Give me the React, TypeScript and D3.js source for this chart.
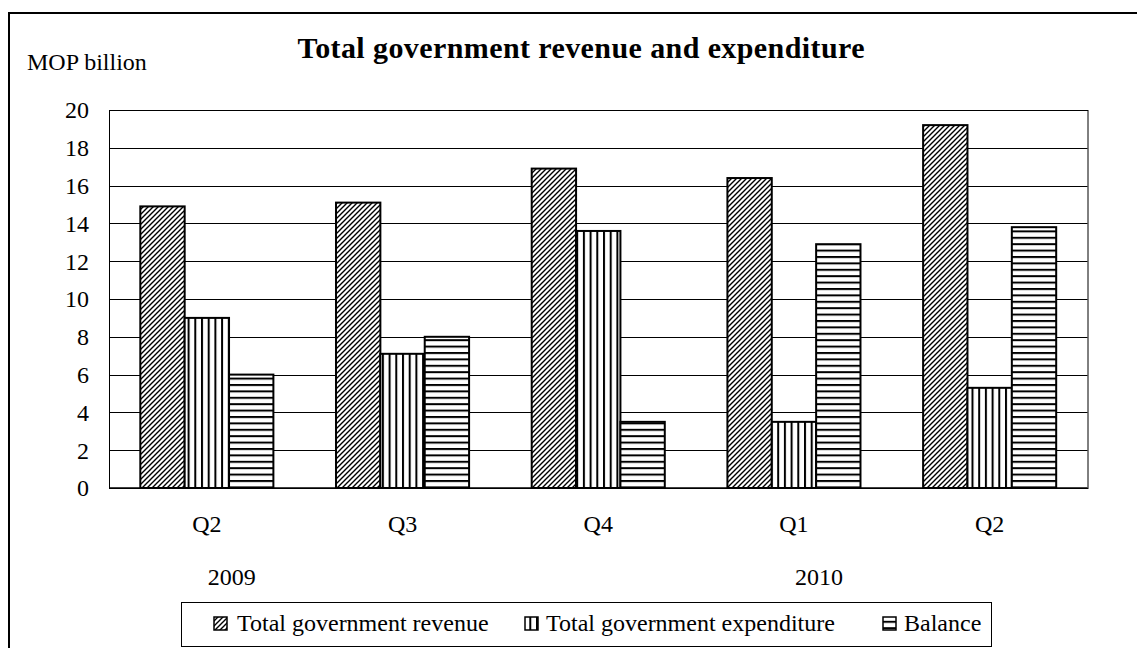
import React from "react";
import * as d3 from "d3";

const categories = ["Q2", "Q3", "Q4", "Q1", "Q2"];
const years = [
  { label: "2009", index: 0 },
  { label: "2010", index: 3 },
];
const revenue = [14.9, 15.1, 16.9, 16.4, 19.2];
const expenditure = [9.0, 7.1, 13.6, 3.5, 5.3];
const balance = [6.0, 8.0, 3.5, 12.9, 13.8];
const seriesNames = [
  "Total government revenue",
  "Total government expenditure",
  "Balance",
];
const yTicks = [0, 2, 4, 6, 8, 10, 12, 14, 16, 18, 20];

const W = 1137;
const H = 648;
const plot = { left: 109, right: 1087.5, top: 110, bottom: 488 };
const FONT = "'Liberation Serif', 'Times New Roman', serif";
const FS = 24;

export default function App() {
  const series = [revenue, expenditure, balance];
  const patterns = ["pRev", "pExp", "pBal"];

  const x0 = d3
    .scaleBand<number>()
    .domain(categories.map((_, i) => i))
    .range([plot.left, plot.right])
    .padding(0);
  const bw = x0.bandwidth();
  const groupW = bw * 0.68;
  const x1 = d3
    .scaleBand<number>()
    .domain([0, 1, 2])
    .range([(bw - groupW) / 2, (bw + groupW) / 2])
    .padding(0);
  const y = d3.scaleLinear().domain([0, 20]).range([plot.bottom, plot.top]);

  const legendItems = [
    { x: 214, tx: 237 },
    { x: 525, tx: 546 },
    { x: 883, tx: 904 },
  ];

  return (
    <svg
      width={W}
      height={H}
      style={{ position: "absolute", left: 0, top: 0, background: "#fff" }}
    >
      <defs>
        <pattern id="pRev" patternUnits="userSpaceOnUse" width={5} height={5}>
          <rect width={5} height={5} fill="#fff" />
          <path
            d="M-1,6 L6,-1 M-2,2 L2,-2 M3,7 L7,3"
            stroke="#000"
            strokeWidth={1.4}
          />
        </pattern>
        <pattern id="pExp" patternUnits="userSpaceOnUse" width={6.7} height={10}>
          <rect width={6.7} height={10} fill="#fff" />
          <line x1={1} y1={0} x2={1} y2={10} stroke="#000" strokeWidth={2} />
        </pattern>
        <pattern id="pBal" patternUnits="userSpaceOnUse" width={10} height={6.4}>
          <rect width={10} height={6.4} fill="#fff" />
          <line x1={0} y1={1} x2={10} y2={1} stroke="#000" strokeWidth={2} />
        </pattern>
      </defs>

      <rect x={0} y={0} width={W} height={H} fill="#fff" />
      {/* outer chart border */}
      <rect
        x={9}
        y={13}
        width={W + 20}
        height={H + 20}
        fill="none"
        stroke="#000"
        strokeWidth={2}
      />

      {/* title */}
      <text
        x={581}
        y={58}
        textAnchor="middle"
        fontFamily={FONT}
        fontWeight="bold"
        fontSize={30}
        textLength={567}
        lengthAdjust="spacing"
      >
        Total government revenue and expenditure
      </text>
      <text x={27} y={70} fontFamily={FONT} fontSize={FS}>
        MOP billion
      </text>

      {/* gridlines */}
      {yTicks.map((t) => (
        <line
          key={"g" + t}
          x1={plot.left}
          x2={plot.right}
          y1={Math.round(y(t)) + 0.5}
          y2={Math.round(y(t)) + 0.5}
          stroke="#000"
          strokeWidth={1}
        />
      ))}
      {/* y tick labels */}
      {yTicks.map((t) => (
        <text
          key={"t" + t}
          x={89}
          y={y(t)}
          dy="0.35em"
          textAnchor="end"
          fontFamily={FONT}
          fontSize={FS}
        >
          {t}
        </text>
      ))}

      {/* bars */}
      {categories.map((_, i) =>
        series.map((s, k) => (
          <rect
            key={`b${i}-${k}`}
            x={(x0(i) as number) + (x1(k) as number)}
            y={y(s[i])}
            width={x1.bandwidth()}
            height={y(0) - y(s[i])}
            fill={`url(#${patterns[k]})`}
            stroke="#000"
            strokeWidth={2}
          />
        ))
      )}

      {/* plot border */}
      <rect
        x={plot.left + 0.5}
        y={plot.top + 0.5}
        width={plot.right - plot.left}
        height={plot.bottom - plot.top}
        fill="none"
        stroke="#000"
        strokeWidth={1}
      />
      <line
        x1={plot.left}
        x2={plot.right}
        y1={plot.bottom}
        y2={plot.bottom}
        stroke="#000"
        strokeWidth={1.5}
      />

      {/* category labels */}
      {categories.map((c, i) => (
        <text
          key={"c" + i}
          x={(x0(i) as number) + bw / 2}
          y={532}
          textAnchor="middle"
          fontFamily={FONT}
          fontSize={FS}
        >
          {c}
        </text>
      ))}
      {years.map((yr) => (
        <text
          key={yr.label}
          x={(x0(yr.index) as number) + bw / 2 + 25}
          y={585}
          textAnchor="middle"
          fontFamily={FONT}
          fontSize={FS}
        >
          {yr.label}
        </text>
      ))}

      {/* legend */}
      <rect
        x={181.5}
        y={602.5}
        width={810}
        height={44}
        fill="#fff"
        stroke="#000"
        strokeWidth={1}
      />
      {seriesNames.map((name, k) => (
        <g key={"l" + k}>
          <rect
            x={legendItems[k].x}
            y={617}
            width={13}
            height={13}
            fill={`url(#${patterns[k]})`}
            stroke="#000"
            strokeWidth={1.5}
          />
          <text
            x={legendItems[k].tx}
            y={631}
            fontFamily={FONT}
            fontSize={FS}
          >
            {name}
          </text>
        </g>
      ))}
    </svg>
  );
}
